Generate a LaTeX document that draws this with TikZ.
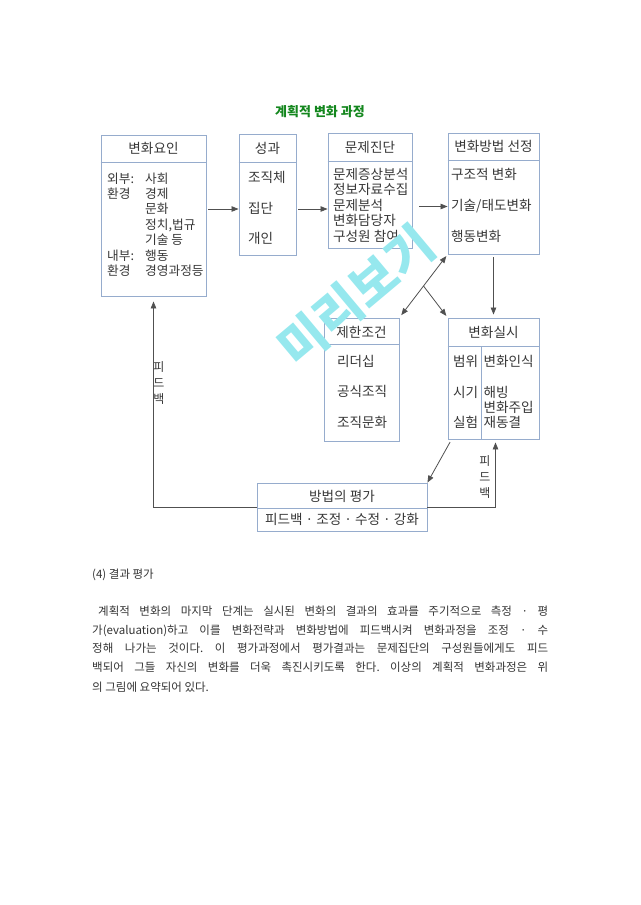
\documentclass[tikz,border=0pt]{standalone}
\usepackage{fontspec}
\setmainfont{Noto Sans CJK KR}
\usepackage{xcolor}
\usetikzlibrary{arrows.meta}

\definecolor{boxblue}{RGB}{150,172,205}
\definecolor{inkgray}{RGB}{55,55,55}
\definecolor{arrowgray}{RGB}{80,80,80}
\definecolor{titlegreen}{RGB}{20,135,30}
\definecolor{wmcyan}{RGB}{150,232,238}
\frenchspacing

\begin{document}
\begin{tikzpicture}[x=1pt,y=-1pt,
    box/.style={draw=boxblue, line width=0.9pt, inner sep=0pt},
    boxline/.style={draw=boxblue, line width=0.9pt},
    hdtxt/.style={inner sep=0pt, text=inkgray, font=\fontsize{13.6}{15}\selectfont},
    bodytxt/.style={inner sep=0pt, anchor=west, text=inkgray, font=\fontsize{13.6}{15}\selectfont, text height=10.5pt, text depth=2.5pt},
    smalltxt/.style={bodytxt, font=\fontsize{12.7}{15}\selectfont},
    labtxt/.style={inner sep=0pt, align=center, text=inkgray, font=\fontsize{12}{16}\selectfont},
    bontxt/.style={inner sep=0pt, anchor=west, text=black!80, font=\fontsize{11.5}{19}\selectfont, text height=8.5pt, text depth=2pt},
    arr/.style={draw=arrowgray, line width=0.8pt, -{Triangle[length=7pt,width=5.5pt]}},
    arrtwo/.style={draw=arrowgray, line width=0.8pt, {Triangle[length=7pt,width=5.5pt]}-{Triangle[length=7pt,width=5.5pt]}}]

\useasboundingbox (0,0) rectangle (640,905);

% title
\node[inner sep=0pt, text=titlegreen, font=\fontsize{13}{15}\selectfont\bfseries] (jemok) at (320,112) {계획적 변화 과정};

% boxes
\node[box, minimum width=105, minimum height=161] (yoin) at (153.5,215.5) {};
\node[box, minimum width=57, minimum height=121] (seonggwa) at (267.5,194.5) {};
\node[box, minimum width=84, minimum height=115] (jindan) at (370,190.5) {};
\node[box, minimum width=91, minimum height=121] (bangbeop) at (493.5,193.5) {};
\node[box, minimum width=75, minimum height=123] (jehan) at (361.5,379.5) {};
\node[box, minimum width=91, minimum height=121] (silsi) at (493.5,378.5) {};
\node[box, minimum width=170, minimum height=48] (pyeongga) at (342,507) {};

% header lines
\draw[boxline] (yoin.west |- 0,162) -- (yoin.east |- 0,162);
\draw[boxline] (seonggwa.west |- 0,162) -- (seonggwa.east |- 0,162);
\draw[boxline] (jindan.west |- 0,161) -- (jindan.east |- 0,161);
\draw[boxline] (bangbeop.west |- 0,160) -- (bangbeop.east |- 0,160);
\draw[boxline] (jehan.west |- 0,344) -- (jehan.east |- 0,344);
\draw[boxline] (silsi.west |- 0,346) -- (silsi.east |- 0,346);
\draw[boxline] (481,346) -- (silsi.south -| 481,0);
\draw[boxline] (pyeongga.west |- 0,508) -- (pyeongga.east |- 0,508);

% headers
\node[hdtxt] (yoin-h) at (153.5,148.5) {변화요인};
\node[hdtxt] (seonggwa-h) at (267.5,148) {성과};
\node[hdtxt] (jindan-h) at (370,147) {문제진단};
\node[hdtxt] (bangbeop-h) at (493.5,146.5) {변화방법 선정};
\node[hdtxt] (jehan-h) at (361.5,332) {제한조건};
\node[hdtxt] (silsi-h) at (493.5,332) {변화실시};
\node[hdtxt] (pyeongga-h) at (342,496) {방법의 평가};
\node[hdtxt] (pyeongga-b) at (342,519.5) {피드백 · 조정 · 수정 · 강화};

% box texts
\node[smalltxt] (oebu) at (107,179) {외부:};
\node[smalltxt] (hwangyeong1) at (107,194.5) {환경};
\node[smalltxt] (naebu) at (107,256) {내부:};
\node[smalltxt] (hwangyeong2) at (107,271.5) {환경};
\foreach \t [count=\i from 0] in {사회,경제,문화,{정치,법규},기술 등,행동,경영과정등}
  \node[smalltxt] (yoin-\i) at (145,179+15.45*\i) {\t};

\node[bodytxt] (jojikche) at (248,178) {조직체};
\node[bodytxt] (jipdan) at (248,209) {집단};
\node[bodytxt] (gaein) at (248,239) {개인};

\foreach \t [count=\i from 0] in {문제증상분석,정보자료수집,문제분석,변화담당자,구성원 참여}
  \node[bodytxt] (jindan-\i) at (333,175+15.5*\i) {\t};

\node[bodytxt] (gujo) at (451,175) {구조적 변화};
\node[bodytxt] (gisul) at (451,206.5) {기술/태도변화};
\node[bodytxt] (haengdong) at (451,237) {행동변화};

\node[bodytxt] (rideo) at (337,362) {리더십};
\node[bodytxt] (gongsik) at (337,392) {공식조직};
\node[bodytxt] (munhwa) at (337,423) {조직문화};

\node[bodytxt] (beomwi) at (453,362) {범위};
\node[bodytxt] (sigi) at (453,393) {시기};
\node[bodytxt] (silheom) at (453,423) {실험};
\node[bodytxt] (insik) at (483.5,362) {변화인식};
\node[bodytxt] (haebing) at (483.5,393) {해빙};
\node[bodytxt] (juip) at (483.5,408) {변화주입};
\node[bodytxt] (jaedong) at (483.5,423) {재동결};

% arrows
\draw[arr, shorten <=2pt] (yoin.east |- jipdan) -- (seonggwa.west |- jipdan);
\draw[arr, shorten <=2pt] (seonggwa.east |- jipdan) -- (jindan.west |- jipdan);
\draw[arr, shorten <=7pt] (jindan.east |- gisul) -- (bangbeop.west |- gisul);
\draw[arrtwo, shorten <=3pt, shorten >=2pt] (jehan.north east) -- (bangbeop.south west);
\path (jehan.north east) -- coordinate[pos=0.5] (gallim) (bangbeop.south west);
\draw[arr, shorten >=2pt] (gallim) -- (silsi.north west);
\draw[arr, shorten <=3pt, shorten >=3pt] (bangbeop.south) -- (silsi.north);
\draw[arr, shorten <=3pt] ([xshift=4pt]silsi.south west) -- (pyeongga.north east);
\draw[arr, shorten >=3pt] (pyeongga.east) -| ([xshift=2pt]silsi.south);
\draw[arr, shorten >=5pt] (pyeongga.west) -| (yoin.south);

\node[labtxt] (pideu-l) at (159,383) {피\\드\\백};
\node[labtxt] (pideu-r) at (485,477) {피\\드\\백};

% text below
\node[bontxt] (mori) at (92,575) {(4) 결과 평가};
\node[bontxt] (bon1) at (98,612) {\makebox[450pt][s]{계획적 변화의 마지막 단계는 실시된 변화의 결과의 효과를 주기적으로 측정 · 평}};
\node[bontxt] (bon2) at (92,631) {\makebox[456pt][s]{가(evaluation)하고 이를 변화전략과 변화방법에 피드백시켜 변화과정을 조정 · 수}};
\node[bontxt] (bon3) at (92,649.5) {\makebox[456pt][s]{정해 나가는 것이다. 이 평가과정에서 평가결과는 문제집단의 구성원들에게도 피드}};
\node[bontxt] (bon4) at (92,668.5) {\makebox[456pt][s]{백되어 그들 자신의 변화를 더욱 촉진시키도록 한다. 이상의 계획적 변화과정은 위}};
\node[bontxt] (bon5) at (92,688) {의 그림에 요약되어 있다.};

% watermark
\node[inner sep=0pt, rotate=40, text=wmcyan, font=\fontsize{50}{50}\selectfont\bfseries] (miribogi) at (356,296) {미리보기};
\end{tikzpicture}
\end{document}
